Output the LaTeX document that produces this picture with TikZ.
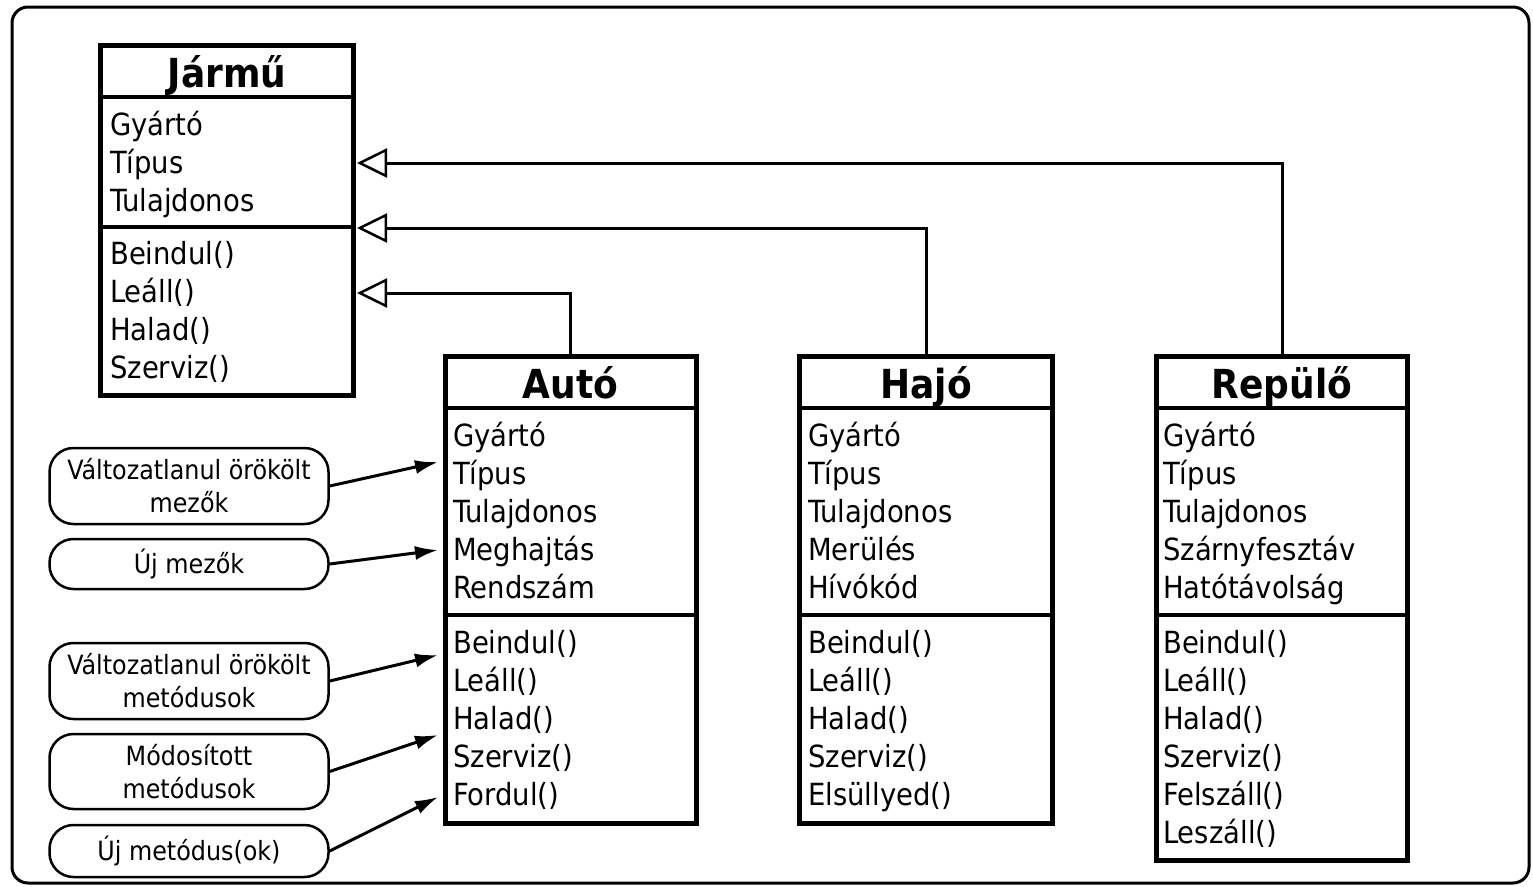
\documentclass[tikz,border=0pt]{standalone}
\usepackage{fontspec}
\setmainfont{DejaVu Sans Condensed}
\usetikzlibrary{arrows.meta}
\tikzset{
  classbox/.style={draw, line width=5pt, inner sep=0pt},
  sepline/.style={line width=4pt},
  ctitle/.style={anchor=base, inner sep=0pt, font=\bfseries\fontsize{40}{42}\selectfont},
  item/.style={anchor=base west, inner sep=0pt, font=\fontsize{30.5}{34}\selectfont},
  callout/.style={draw, line width=2.5pt, rounded corners=24pt, minimum width=279pt, align=center, inner sep=0pt, font=\fontsize{26.5}{33}\selectfont},
  inherit/.style={line width=3pt, -{Triangle[open, length=30pt, width=29pt, line width=2.5pt]}},
  callarrow/.style={line width=3pt, -{Latex[length=23pt, width=14pt]}},
}
\begin{document}
\begin{tikzpicture}[x=1pt,y=-1pt]
\useasboundingbox (0,0) rectangle (1533,886);
\fill[white] (0,0) rectangle (1533,886);
\draw[line width=3pt, rounded corners=16pt] (12,7) rectangle (1529,883);

% class boxes
\node[classbox, minimum width=253pt, minimum height=350pt] (jarmu) at (227,220.5) {};
\node[classbox, minimum width=251pt, minimum height=467pt] (auto) at (570.5,590) {};
\node[classbox, minimum width=253pt, minimum height=467pt] (hajo) at (926,590) {};
\node[classbox, minimum width=251pt, minimum height=504pt] (repulo) at (1282,608.5) {};

% separators
\draw[sepline] (jarmu.west |- 0,97) -- (jarmu.east |- 0,97);
\draw[sepline] (jarmu.west |- 0,227) -- (jarmu.east |- 0,227);
\foreach \b in {auto,hajo,repulo}{
  \draw[sepline] (\b.west |- 0,408) -- (\b.east |- 0,408);
  \draw[sepline] (\b.west |- 0,615) -- (\b.east |- 0,615);
}

% titles
\node[ctitle] (jarmu-t) at (227,87) {Jármű};
\node[ctitle] (auto-t) at (570.5,398) {Autó};
\node[ctitle] (hajo-t) at (926,398) {Hajó};
\node[ctitle] (repulo-t) at (1282,398) {Repülő};

% Jármű
\foreach \t [count=\i] in {Gyártó,Típus,Tulajdonos}
  \node[item] (ja-\i) at (110,{97+38*\i}) {\t};
\foreach \t [count=\i] in {Beindul(),Leáll(),Halad(),Szerviz()}
  \node[item] (jm-\i) at (110,{226+38*\i}) {\t};

% Autó
\foreach \t [count=\i] in {Gyártó,Típus,Tulajdonos,Meghajtás,Rendszám}
  \node[item] (aa-\i) at (453,{408+38*\i}) {\t};
\foreach \t [count=\i] in {Beindul(),Leáll(),Halad(),Szerviz(),Fordul()}
  \node[item] (am-\i) at (453,{615+38*\i}) {\t};

% Hajó
\foreach \t [count=\i] in {Gyártó,Típus,Tulajdonos,Merülés,Hívókód}
  \node[item] (ha-\i) at (808,{408+38*\i}) {\t};
\foreach \t [count=\i] in {Beindul(),Leáll(),Halad(),Szerviz(),Elsüllyed()}
  \node[item] (hm-\i) at (808,{615+38*\i}) {\t};

% Repülő
\foreach \t [count=\i] in {Gyártó,Típus,Tulajdonos,Szárnyfesztáv,Hatótávolság}
  \node[item] (ra-\i) at (1163,{408+38*\i}) {\t};
\foreach \t [count=\i] in {Beindul(),Leáll(),Halad(),Szerviz(),Felszáll(),Leszáll()}
  \node[item] (rm-\i) at (1163,{615+38*\i}) {\t};

% inheritance connectors
\coordinate (j1) at (357,163);
\coordinate (j2) at (357,228);
\coordinate (j3) at (357,293);
\draw[inherit] (repulo.north) |- (j1);
\draw[inherit] (hajo.north) |- (j2);
\draw[inherit] (auto.north) |- (j3);

% callouts
\node[callout, minimum height=76pt] (c1) at (189,486) {Változatlanul örökölt\\mezők};
\node[callout, minimum height=50pt] (c2) at (189,564) {Új mezők};
\node[callout, minimum height=76pt] (c3) at (189,681) {Változatlanul örökölt\\metódusok};
\node[callout, minimum height=75pt] (c4) at (189,771.5) {Módosított\\metódusok};
\node[callout, minimum height=52pt] (c5) at (189,851) {Új metódus(ok)};

\coordinate (t1) at (438,462);
\coordinate (t2) at (438,550);
\coordinate (t3) at (438,655);
\coordinate (t4) at (438,735);
\coordinate (t5) at (438,797);
\draw[callarrow] (c1.east) -- (t1);
\draw[callarrow] (c2.east) -- (t2);
\draw[callarrow] (c3.east) -- (t3);
\draw[callarrow] (c4.east) -- (t4);
\draw[callarrow] (c5.east) -- (t5);
\end{tikzpicture}
\end{document}
